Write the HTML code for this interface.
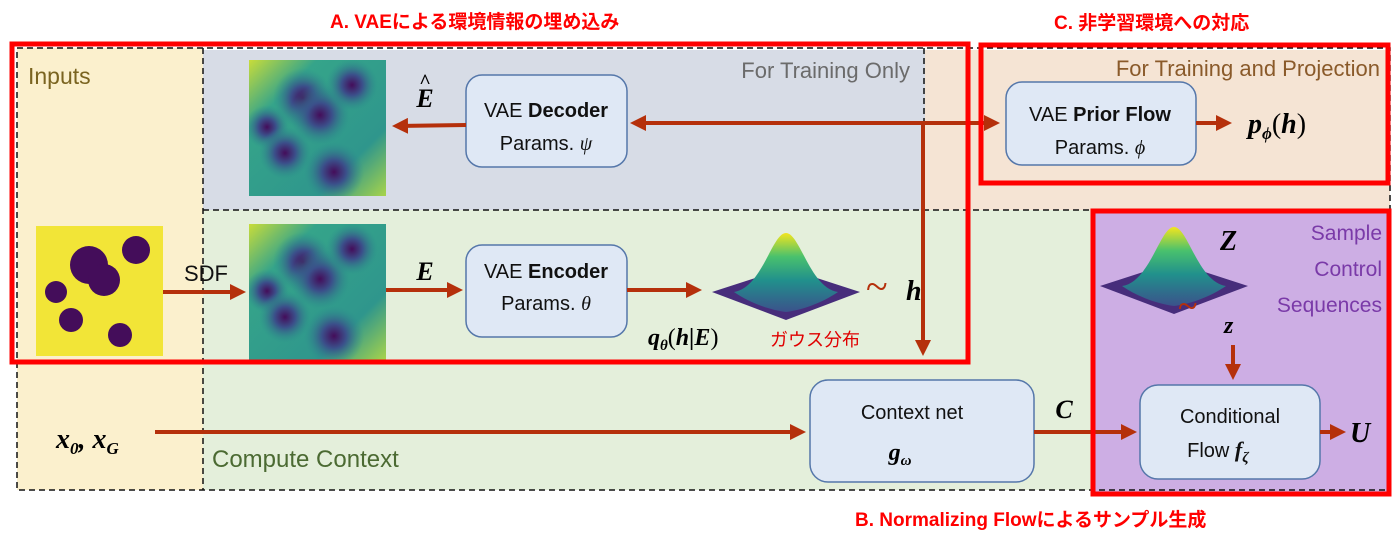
<!DOCTYPE html>
<html><head><meta charset="utf-8"><style>
html,body{margin:0;padding:0;background:#fff;}
svg{display:block;}
.s{font-family:"Liberation Sans","Noto Sans CJK JP",sans-serif;}
.m{font-family:"Liberation Serif",serif;font-style:italic;font-weight:bold;}
</style></head><body>
<svg width="1400" height="539" viewBox="0 0 1400 539" xmlns="http://www.w3.org/2000/svg">
<defs>
<marker id="ah" markerWidth="4" markerHeight="4" refX="3" refY="2" orient="auto-start-reverse" markerUnits="strokeWidth"><path d="M0,0 L4,2 L0,4 z" fill="#b5300b"/></marker>
<radialGradient id="blob"><stop offset="0" stop-color="#440d5a"/><stop offset="0.4" stop-color="#3b4f8a"/><stop offset="1" stop-color="#2a8d8c" stop-opacity="0"/></radialGradient>
<linearGradient id="hbg" x1="0" y1="0" x2="1" y2="1"><stop offset="0" stop-color="#c8dc3a"/><stop offset="0.25" stop-color="#35a48a"/><stop offset="0.75" stop-color="#2f968c"/><stop offset="1" stop-color="#a8d44a"/></linearGradient>
<linearGradient id="bell" x1="0" y1="0" x2="0" y2="1"><stop offset="0" stop-color="#f3e51e"/><stop offset="0.3" stop-color="#49c16d"/><stop offset="0.6" stop-color="#21908c"/><stop offset="1" stop-color="#3b528b"/></linearGradient>
<symbol id="heat" viewBox="0 0 137 136">
<rect x="0" y="0" width="137" height="136" fill="url(#hbg)"/>
<circle cx="54" cy="38" r="30" fill="url(#blob)"/>
<circle cx="71" cy="55" r="30" fill="url(#blob)"/>
<circle cx="103" cy="25" r="26" fill="url(#blob)"/>
<circle cx="18" cy="67" r="22" fill="url(#blob)"/>
<circle cx="36" cy="93" r="26" fill="url(#blob)"/>
<circle cx="85" cy="112" r="30" fill="url(#blob)"/>
</symbol>
<g id="gauss">
<polygon points="0,64 74,40 148,64 74,92" fill="#472d7b"/>
<path d="M22,64 C50,60 60,5 74,5 C88,5 98,60 126,64 C110,75 90,82 74,84 C58,82 38,75 22,64 z" fill="url(#bell)"/>
</g>
</defs>

<rect x="17" y="48" width="186" height="442" fill="#fbf0cd"/>
<rect x="203" y="50" width="722" height="160" fill="#d7dce6"/>
<rect x="925" y="50" width="465" height="160" fill="#f5e4d4"/>
<rect x="203" y="210" width="1187" height="280" fill="#e4efdb"/>
<rect x="1092" y="212" width="296" height="280" fill="#cdaee4"/>

<g stroke="#111" stroke-width="1.5" stroke-dasharray="6,4" fill="none">
<rect x="17" y="48" width="1373" height="442"/>
<line x1="203" y1="48" x2="203" y2="490"/>
<line x1="203" y1="210" x2="1390" y2="210"/>
<line x1="924" y1="48" x2="924" y2="210"/>
</g>

<text x="28" y="84" class="s" font-size="23" fill="#7a6420">Inputs</text>
<text x="910" y="78" class="s" font-size="22" fill="#6b6b6b" text-anchor="end">For Training Only</text>
<text x="1380" y="76" class="s" font-size="22" fill="#8a5a2a" text-anchor="end">For Training and Projection</text>
<text x="212" y="467" class="s" font-size="24" fill="#4b6a32">Compute Context</text>
<text x="1382" y="240" class="s" font-size="21" fill="#7a3aa8" text-anchor="end">Sample</text>
<text x="1382" y="276" class="s" font-size="21" fill="#7a3aa8" text-anchor="end">Control</text>
<text x="1382" y="312" class="s" font-size="21" fill="#7a3aa8" text-anchor="end">Sequences</text>

<use href="#heat" x="249" y="60" width="137" height="136"/>
<use href="#heat" x="249" y="224" width="137" height="136"/>
<rect x="36" y="226" width="127" height="130" fill="#f2e537"/>
<g fill="#440d5a">
<circle cx="89" cy="265" r="19"/><circle cx="104" cy="280" r="16"/><circle cx="136" cy="250" r="14"/>
<circle cx="56" cy="292" r="11"/><circle cx="71" cy="320" r="12"/><circle cx="120" cy="335" r="12"/>
</g>

<g fill="#dfe8f5" stroke="#5577aa" stroke-width="1.5">
<rect x="466" y="75" width="161" height="92" rx="16"/>
<rect x="466" y="245" width="161" height="92" rx="16"/>
<rect x="1006" y="82" width="190" height="83" rx="16"/>
<rect x="810" y="380" width="224" height="102" rx="18"/>
<rect x="1140" y="385" width="180" height="94" rx="18"/>
</g>
<g class="s" font-size="20" fill="#111" text-anchor="middle">
<text x="546" y="117">VAE <tspan font-weight="bold">Decoder</tspan></text>
<text x="546" y="150">Params. <tspan font-family="Liberation Serif" font-style="italic">ψ</tspan></text>
<text x="546" y="278">VAE <tspan font-weight="bold">Encoder</tspan></text>
<text x="546" y="310">Params. <tspan font-family="Liberation Serif" font-style="italic">θ</tspan></text>
<text x="1100" y="121">VAE <tspan font-weight="bold">Prior Flow</tspan></text>
<text x="1100" y="154">Params.  <tspan font-family="Liberation Serif" font-style="italic">ϕ</tspan></text>
<text x="912" y="419">Context net</text>
<text x="1230" y="423">Conditional</text>
<text x="1218" y="457">Flow <tspan class="m" font-size="22">f</tspan><tspan class="m" font-size="15" dy="5">ζ</tspan></text>
</g>
<text x="900" y="460" class="m" font-size="24" text-anchor="middle">g<tspan font-size="15" dy="5">ω</tspan></text>

<use href="#gauss" x="712" y="228"/>
<use href="#gauss" x="1100" y="222"/>

<g stroke="#b5300b" stroke-width="4" fill="none">
<line x1="466" y1="125" x2="396" y2="126" marker-end="url(#ah)"/>
<line x1="634" y1="123" x2="996" y2="123" marker-start="url(#ah)" marker-end="url(#ah)"/>
<line x1="923" y1="123" x2="923" y2="352" marker-end="url(#ah)"/>
<line x1="1196" y1="123" x2="1228" y2="123" marker-end="url(#ah)"/>
<line x1="163" y1="292" x2="242" y2="292" marker-end="url(#ah)"/>
<line x1="386" y1="290" x2="459" y2="290" marker-end="url(#ah)"/>
<line x1="627" y1="290" x2="698" y2="290" marker-end="url(#ah)"/>
<line x1="155" y1="432" x2="802" y2="432" marker-end="url(#ah)"/>
<line x1="1034" y1="432" x2="1133" y2="432" marker-end="url(#ah)"/>
<line x1="1320" y1="432" x2="1342" y2="432" marker-end="url(#ah)"/>
<line x1="1233" y1="345" x2="1233" y2="376" marker-end="url(#ah)"/>
</g>

<text x="425" y="107" class="m" font-size="26" text-anchor="middle">E</text>
<text x="425" y="88" font-family="Liberation Serif" font-size="20" font-weight="bold" text-anchor="middle">^</text>
<text x="425" y="280" class="m" font-size="26" text-anchor="middle">E</text>
<text x="184" y="281" class="s" font-size="22" fill="#111">SDF</text>
<text x="866" y="300" font-family="Liberation Serif" font-size="40" fill="#b5300b">~</text>
<text x="906" y="300" class="m" font-size="28">h</text>
<text x="648" y="345" class="m" font-size="24">q<tspan font-size="15" dy="5">θ</tspan><tspan dy="-5" font-style="normal" font-weight="normal">(</tspan>h|E<tspan font-style="normal" font-weight="normal">)</tspan></text>
<text x="770" y="346" class="s" font-size="18" fill="#e00000">ガウス分布</text>
<text x="1248" y="133" class="m" font-size="28">p<tspan font-size="17" dy="6">ϕ</tspan><tspan dy="-6" font-style="normal" font-weight="normal">(</tspan>h<tspan font-style="normal" font-weight="normal">)</tspan></text>
<text x="1220" y="250" class="m" font-size="28">Z</text>
<text x="1178" y="318" font-family="Liberation Serif" font-size="36" fill="#b5300b">~</text>
<text x="1224" y="333" class="m" font-size="24">z</text>
<text x="1064" y="418" class="m" font-size="26" text-anchor="middle">C</text>
<text x="1350" y="442" class="m" font-size="28">U</text>
<text x="56" y="448" class="m" font-size="28">x<tspan font-size="17" dy="6">0</tspan><tspan dy="-6">, x</tspan><tspan font-size="17" dy="6">G</tspan></text>

<g fill="none" stroke="#ff0000" stroke-width="5">
<rect x="12" y="44" width="956" height="318"/>
<rect x="981" y="45" width="407" height="138"/>
<rect x="1093" y="211" width="296" height="283"/>
</g>
<g class="s" font-size="19" font-weight="bold" fill="#ff0000">
<text x="330" y="28">A. VAEによる環境情報の埋め込み</text>
<text x="1054" y="29">C. 非学習環境への対応</text>
<text x="855" y="526">B. Normalizing Flowによるサンプル生成</text>
</g>
</svg>
</body></html>
